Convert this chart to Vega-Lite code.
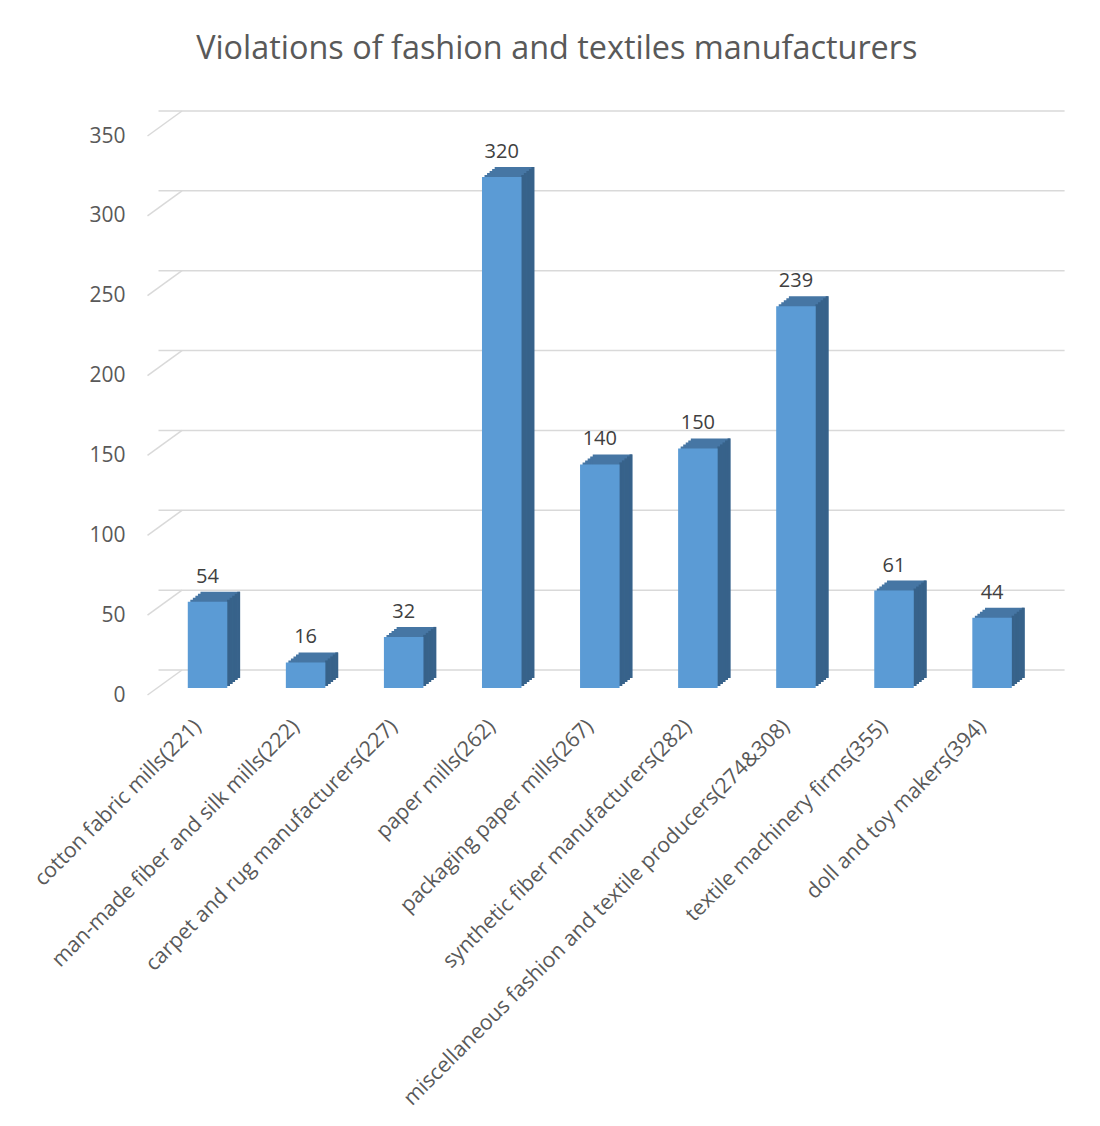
{
  "$schema": "https://vega.github.io/schema/vega-lite/v6.json",
  "width": 882.6,
  "height": 559,
  "autosize": "none",
  "padding": {"left": 158.5, "top": 129, "right": 58.9, "bottom": 438},
  "background": "white",
  "config": {"view": {"stroke": null}, "font": "Open Sans"},
  "title": {
    "text": "Violations of fashion and textiles manufacturers",
    "fontSize": 32.4,
    "font": "Open Sans",
    "fontWeight": "normal",
    "color": "#595959",
    "anchor": "middle",
    "frame": "group",
    "dx": -43,
    "offset": 19,
    "baseline": "alphabetic"
  },
  "datasets": {
    "main": [
      {"category": "cotton fabric mills(221)", "value": 54},
      {"category": "man-made fiber and silk mills(222)", "value": 16},
      {"category": "carpet and rug manufacturers(227)", "value": 32},
      {"category": "paper mills(262)", "value": 320},
      {"category": "packaging paper mills(267)", "value": 140},
      {"category": "synthetic fiber manufacturers(282)", "value": 150},
      {"category": "miscellaneous fashion and textile producers(274&308)", "value": 239},
      {"category": "textile machinery firms(355)", "value": 61},
      {"category": "doll and toy makers(394)", "value": 44}
    ],
    "grid": [{"v": 0}, {"v": 50}, {"v": 100}, {"v": 150}, {"v": 200}, {"v": 250}, {"v": 300}, {"v": 350}]
  },
  "layer": [
    {
      "data": {"name": "grid"},
      "mark": {"type": "rule", "color": "#D9D9D9", "strokeWidth": 1.5, "xOffset": 23.5, "yOffset": -18},
      "encoding": {
        "y": {
          "field": "v", "type": "quantitative", "scale": {"domain": [0, 350], "nice": false},
          "axis": {
            "title": null, "domain": false, "ticks": false, "grid": false,
            "values": [0, 50, 100, 150, 200, 250, 300, 350],
            "labelFontSize": 21, "labelColor": "#595959", "labelFont": "Open Sans",
            "labelPadding": 33.5, "labelOffset": 7
          }
        }
      }
    },
    {
      "data": {"name": "grid"},
      "mark": {"type": "rule", "color": "#D9D9D9", "strokeWidth": 1.5, "yOffset": 7, "y2Offset": -18},
      "encoding": {
        "x": {"value": -11},
        "x2": {"value": 23.5},
        "y": {"field": "v", "type": "quantitative"},
        "y2": {"field": "v"}
      }
    },
    {
      "data": {"name": "main"},
      "layer": [
        {"mark": {"type": "bar", "width": 39.5, "color": "#4676A4", "xOffset": 2.54, "yOffset": -2}, "encoding": {}},
        {"mark": {"type": "bar", "width": 39.5, "color": "#4676A4", "xOffset": 5.08, "yOffset": -4}, "encoding": {}},
        {"mark": {"type": "bar", "width": 39.5, "color": "#4676A4", "xOffset": 7.62, "yOffset": -6}, "encoding": {}},
        {"mark": {"type": "bar", "width": 39.5, "color": "#4676A4", "xOffset": 10.16, "yOffset": -8}, "encoding": {}},
        {"mark": {"type": "bar", "width": 39.5, "color": "#4676A4", "xOffset": 12.7, "yOffset": -10}, "encoding": {}},
        {"mark": {"type": "bar", "width": 2.9, "color": "#37628A", "xOffset": 21.02, "yOffset": -2}, "encoding": {}},
        {"mark": {"type": "bar", "width": 2.9, "color": "#37628A", "xOffset": 23.56, "yOffset": -4}, "encoding": {}},
        {"mark": {"type": "bar", "width": 2.9, "color": "#37628A", "xOffset": 26.1, "yOffset": -6}, "encoding": {}},
        {"mark": {"type": "bar", "width": 2.9, "color": "#37628A", "xOffset": 28.64, "yOffset": -8}, "encoding": {}},
        {"mark": {"type": "bar", "width": 2.9, "color": "#37628A", "xOffset": 31.18, "yOffset": -10}, "encoding": {}},
        {
          "mark": {"type": "bar", "width": 39.5, "color": "#5B9BD5"},
          "encoding": {
            "x": {
              "field": "category", "type": "nominal", "sort": null,
              "scale": {"paddingInner": 0, "paddingOuter": 0},
              "axis": {
                "title": null, "domain": false, "ticks": false, "grid": false,
                "labelAngle": -45, "labelAlign": "right", "labelBaseline": "middle",
                "labelFontSize": 21.2, "labelColor": "#595959", "labelFont": "Open Sans",
                "labelPadding": 35, "labelOffset": -9.5, "labelLimit": 0
              }
            }
          }
        },
        {
          "mark": {"type": "text", "dy": -19, "baseline": "alphabetic", "align": "center", "fontSize": 20, "color": "#404040", "font": "Open Sans"},
          "encoding": {"text": {"field": "value", "type": "quantitative"}}
        }
      ],
      "encoding": {
        "x": {"field": "category", "type": "nominal", "sort": null},
        "y": {"field": "value", "type": "quantitative"}
      }
    }
  ]
}
